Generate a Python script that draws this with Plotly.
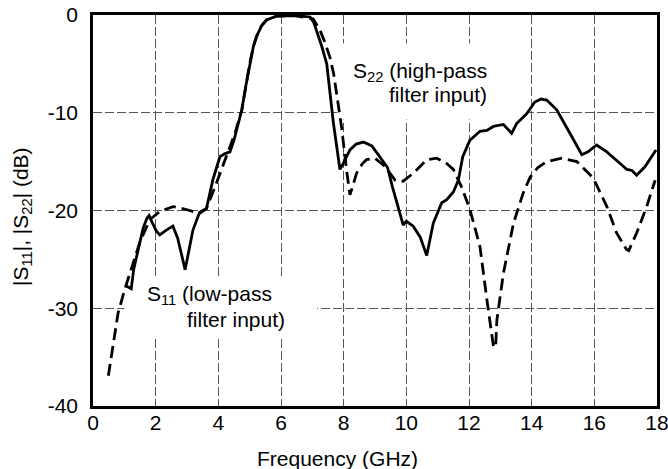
import plotly.graph_objects as go

# S11 (low-pass filter input) - solid
s11_freq = [1.05, 1.22, 1.3, 1.44, 1.6, 1.72, 1.79, 1.9, 2.02, 2.13, 2.34, 2.55, 2.7, 2.94, 3.07, 3.19,
            3.4, 3.62, 3.83, 4.05, 4.2, 4.37, 4.5, 4.64, 4.75, 4.88, 5.01, 5.12, 5.22, 5.38, 5.54, 5.87,
            6.4, 6.93, 7.05, 7.14, 7.3, 7.46, 7.57, 7.67, 7.78, 7.88, 8.0, 8.2, 8.4, 8.63, 8.9, 9.16,
            9.4, 9.55, 9.75, 9.9, 10.0, 10.22, 10.44, 10.65, 10.86, 11.13, 11.29, 11.5, 11.66, 11.8,
            12.03, 12.35, 12.57, 12.78, 13.1, 13.36, 13.52, 13.84, 14.1, 14.3, 14.48, 14.8, 15.22,
            15.6, 15.8, 16.07, 16.4, 16.82, 17.04, 17.2, 17.35, 17.62, 17.97]
s11_db = [-27.7, -28.0, -26.0, -24.0, -21.8, -20.8, -20.5, -21.3, -22.1, -22.5, -22.0, -21.6, -22.8,
          -26.05, -24.0, -22.0, -20.2, -19.8, -16.8, -14.5, -14.2, -14.0, -12.8, -11.1, -9.7, -7.2,
          -4.8, -3.2, -2.2, -1.1, -0.5, -0.1, -0.05, -0.2, -0.8, -1.6, -3.2, -5.0, -8.2, -11.0,
          -13.5, -15.8, -15.1, -13.8, -13.2, -13.0, -13.4, -14.5, -15.6, -17.5, -19.8, -21.5,
          -21.1, -21.6, -22.7, -24.6, -21.3, -19.2, -18.9, -18.1, -16.9, -14.5, -12.8, -11.9,
          -11.8, -11.4, -11.2, -12.1, -11.1, -10.1, -8.9, -8.6, -8.7, -9.7, -12.1, -14.3, -14.0,
          -13.3, -14.0, -15.2, -15.8, -15.9, -16.4, -15.5, -13.8]

# S22 (high-pass filter input) - dashed
s22_freq = [0.49, 0.65, 0.8, 1.01, 1.22, 1.49, 1.81, 2.13, 2.55, 2.98, 3.4, 3.62, 3.94, 4.1, 4.27,
            4.53, 4.75, 4.88, 5.01, 5.12, 5.22, 5.38, 5.54, 5.87, 6.4, 7.03, 7.25, 7.4, 7.56, 7.68,
            7.78, 7.93, 8.09, 8.2, 8.3, 8.41, 8.6, 8.73, 9.0, 9.32, 9.64, 9.9, 10.22, 10.65, 10.97,
            11.29, 11.5, 11.75, 12.03, 12.35, 12.57, 12.78, 12.85, 12.89, 13.1, 13.42, 13.73, 13.95,
            14.2, 14.48, 14.96, 15.44, 15.97, 16.4, 16.71, 17.03, 17.1, 17.35, 17.67, 17.94]
s22_db = [-36.9, -33.6, -30.5, -28.1, -25.9, -23.3, -20.95, -20.1, -19.6, -19.9, -20.3, -19.8, -17.2,
          -15.8, -14.5, -12.1, -9.7, -7.2, -4.8, -3.2, -2.2, -1.1, -0.5, -0.1, -0.05, -0.4, -1.6,
          -2.8, -4.3, -6.0, -8.0, -11.4, -15.8, -18.4, -17.4, -16.2, -15.2, -14.8, -14.65, -15.5,
          -16.9, -17.0, -16.2, -14.8, -14.65, -15.2, -15.8, -17.5, -19.9, -23.7, -29.1, -33.9,
          -34.0, -31.2, -26.4, -21.3, -18.2, -16.6, -15.6, -15.0, -14.65, -15.0, -16.7, -19.6,
          -22.3, -24.0, -24.1, -22.3, -19.6, -16.9]

x_ticks = [0, 2, 4, 6, 8, 10, 12, 14, 16, 18]
y_ticks = [0, -10, -20, -30, -40]

FONT = "Liberation Sans, Arial, sans-serif"
FS = 21

fig = go.Figure()
fig.add_trace(go.Scatter(x=s22_freq, y=s22_db, mode="lines",
                         line=dict(color="black", width=2.8, dash="12px,6px"),
                         showlegend=False))
fig.add_trace(go.Scatter(x=s11_freq, y=s11_db, mode="lines",
                         line=dict(color="black", width=2.8),
                         showlegend=False))

# white boxes behind labels (hide gridlines)
fig.add_shape(type="rect", xref="x", yref="y", x0=7.8, x1=13.9, y0=-10.7, y1=-2.9,
              fillcolor="white", line=dict(width=0), layer="between")
fig.add_shape(type="rect", xref="x", yref="y", x0=1.0, x1=7.15, y0=-32.9, y1=-26.7,
              fillcolor="white", line=dict(width=0), layer="between")

# label positions given in pixels, converted to paper coords below
labels = [
    (489, 72, "S<sub>22</sub> (high-pass", "right", 0),
    (489, 94, "filter input)", "right", 0),
    (145, 295, "S<sub>11</sub> (low-pass", "left", 0),
    (185, 319, "filter input)", "left", 0),
    (337, 458, "Frequency (GHz)", "center", 0),
    (22, 217, "|S<sub>11</sub>|, |S<sub>22</sub>| (dB)", "center", -90),
]

L, R, T, B = 93, 11, 15, 63
W, H = 668, 469
pw, ph = W - L - R, H - T - B
for px, py, txt, anc, ang in labels:
    fig.add_annotation(x=(px - L) / pw, y=1 - (py - T) / ph, xref="paper", yref="paper",
                       text=txt, showarrow=False, xanchor=anc, yanchor="middle",
                       textangle=ang,
                       font=dict(size=FS, color="black", family=FONT))

fig.update_layout(
    width=W, height=H,
    margin=dict(l=L, r=R, t=T, b=B, autoexpand=False),
    plot_bgcolor="white", paper_bgcolor="white",
    font=dict(family=FONT, size=FS, color="black"),
)
fig.update_xaxes(range=[0, 18], tickvals=x_ticks, ticktext=[str(v) for v in x_ticks],
                 showgrid=True, gridcolor="#555", gridwidth=1, griddash="9px,3px",
                 showline=True, linecolor="black", linewidth=2.5, mirror=True,
                 ticks="", zeroline=False, ticklabelstandoff=-4, automargin=False,
                 ticklabeloverflow="allow")
fig.update_yaxes(range=[-40, 0], tickvals=y_ticks, ticktext=[str(v) for v in y_ticks],
                 showgrid=True, gridcolor="#555", gridwidth=1, griddash="9px,3px",
                 showline=True, linecolor="black", linewidth=2.5, mirror=True,
                 ticks="", zeroline=False, ticklabelstandoff=8, automargin=False,
                 ticklabeloverflow="allow")

fig.write_html("out.html")
